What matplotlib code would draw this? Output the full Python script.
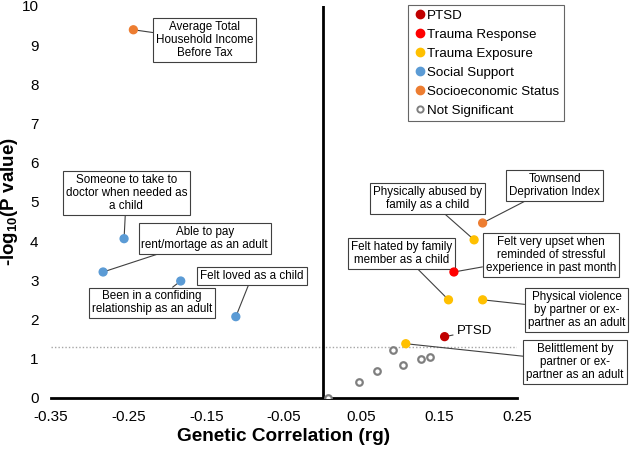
import matplotlib
matplotlib.use('Agg')
import matplotlib.pyplot as plt
from matplotlib.lines import Line2D

plt.rcParams['font.family'] = ['Liberation Sans', 'DejaVu Sans']
plt.rcParams['mathtext.fontset'] = 'custom'
plt.rcParams['mathtext.rm'] = 'Liberation Sans:bold'
plt.rcParams['mathtext.bf'] = 'Liberation Sans:bold'

# significant traits: label, category, rg, -log10(p), label box centre
labels = ['Average Total\nHousehold Income\nBefore Tax',
          'Someone to take to\ndoctor when needed as\na child',
          'Able to pay\nrent/mortage as an adult',
          'Been in a confiding\nrelationship as an adult',
          'Felt loved as a child',
          'Townsend\nDeprivation Index',
          'Physically abused by\nfamily as a child',
          'Felt very upset when\nreminded of stressful\nexperience in past month',
          'Felt hated by family\nmember as a child',
          'Physical violence\nby partner or ex-\npartner as an adult',
          'PTSD',
          'Belittlement by\npartner or ex-\npartner as an adult']
cats = ['Socioeconomic Status', 'Social Support', 'Social Support', 'Social Support',
        'Social Support', 'Socioeconomic Status', 'Trauma Exposure', 'Trauma Response',
        'Trauma Exposure', 'Trauma Exposure', 'PTSD', 'Trauma Exposure']
rg = [-0.244, -0.256, -0.283, -0.183, -0.112, 0.206, 0.195, 0.169, 0.162, 0.206, 0.157, 0.107]
logp = [9.39, 4.06, 3.21, 2.98, 2.07, 4.46, 4.03, 3.21, 2.50, 2.50, 1.56, 1.38]
box_x = [-0.152, -0.253, -0.152, -0.220, -0.091, 0.299, 0.135, 0.294, 0.102, 0.327, 0.196, 0.325]
box_y = [9.13, 5.23, 4.06, 2.42, 3.11, 5.41, 5.08, 3.65, 3.69, 2.24, 1.71, 0.92]

# not significant traits
ns_rg = [0.090, 0.126, 0.138, 0.103, 0.070, 0.047, 0.007]
ns_logp = [1.22, 0.99, 1.05, 0.84, 0.69, 0.41, 0.0]

threshold = 1.30

colors = {'PTSD': '#C00000', 'Trauma Response': '#FF0000', 'Trauma Exposure': '#FFC000',
          'Social Support': '#5B9BD5', 'Socioeconomic Status': '#ED7D31'}

fig = plt.figure(figsize=(6.31, 4.5), dpi=100)
ax = fig.add_axes([0.081, 0.116, 0.738, 0.871])

ax.axhline(threshold, color='#A6A6A6', lw=1, ls=(0, (1, 1.5)), zorder=1)
ax.axvline(0, color='black', lw=2, zorder=2)

ax.scatter(ns_rg, ns_logp, s=22, facecolors='white', edgecolors='#7F7F7F', linewidths=1.6, zorder=3)
ax.scatter(rg, logp, s=32, c=[colors[c] for c in cats], zorder=4)

for lab, x, y, bx, by in zip(labels, rg, logp, box_x, box_y):
    if lab == 'PTSD':
        ax.annotate(lab, xy=(x, y), xytext=(bx, by), ha='center', va='center', fontsize=9.5,
                    arrowprops=dict(arrowstyle='-', color='#404040', lw=0.8, shrinkA=1, shrinkB=3))
        continue
    ax.annotate(lab, xy=(x, y), xytext=(bx, by), ha='center', va='center', fontsize=8.4,
                linespacing=1.1, annotation_clip=False,
                bbox=dict(boxstyle='square,pad=0.25', fc='white', ec='#404040', lw=0.8),
                arrowprops=dict(arrowstyle='-', color='#404040', lw=0.8, shrinkA=0, shrinkB=2))

ax.set_xlim(-0.35, 0.25)
ax.set_ylim(0, 10)
ax.set_xticks([-0.35, -0.25, -0.15, -0.05, 0.05, 0.15, 0.25])
ax.set_xticklabels(['-0.35', '-0.25', '-0.15', '-0.05', '0.05', '0.15', '0.25'])
ax.set_yticks(range(0, 11))
ax.tick_params(length=0, labelsize=11, pad=9)
for s in ['top', 'right', 'left']:
    ax.spines[s].set_visible(False)
ax.spines['bottom'].set_linewidth(2)

ax.set_xlabel('Genetic Correlation (rg)', fontsize=13.7, fontweight='bold', labelpad=3)
ax.set_ylabel(r'-log$_{10}$(P value)', fontsize=13.5, fontweight='bold')
ax.yaxis.set_label_coords(-0.066, 0.5)

handles = [Line2D([], [], marker='o', ls='', color=colors[k], markersize=6, label=k) for k in colors]
handles.append(Line2D([], [], marker='o', ls='', markerfacecolor='white', markeredgecolor='#7F7F7F',
                      markeredgewidth=1.4, markersize=4.5, label='Not Significant'))
leg = ax.legend(handles=handles, loc='upper left', bbox_to_anchor=(0.766, 1.003), fontsize=9.6,
                frameon=True, fancybox=False, edgecolor='#404040', handletextpad=0.0,
                handlelength=1.1, labelspacing=0.5, borderpad=0.35, borderaxespad=0)
leg.get_frame().set_linewidth(0.8)

fig.savefig('out.png', dpi=100)
